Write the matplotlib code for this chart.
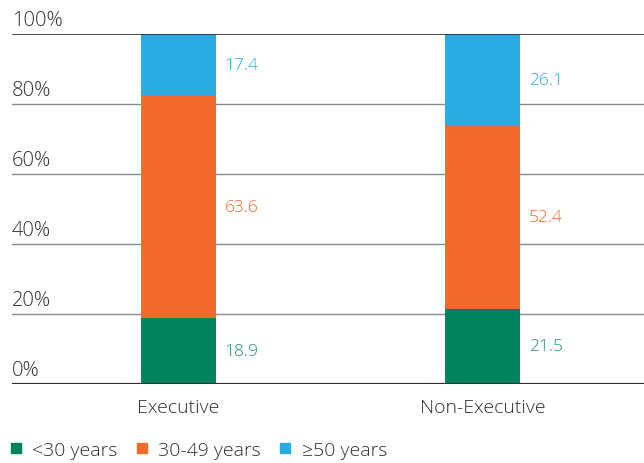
import numpy as np
import matplotlib.pyplot as plt
from matplotlib.lines import Line2D
from matplotlib.transforms import blended_transform_factory

plt.rcParams["font.family"] = ["Open Sans", "DejaVu Sans"]
plt.rcParams["font.weight"] = "light"

# age split of board members, percent
categories = ["Executive", "Non-Executive"]
under_30 = [18.9, 21.5]
age_30_49 = [63.6, 52.4]
over_50 = [17.4, 26.1]
series_names = ["<30 years", "30-49 years", "\u226550 years"]
y_ticks = [0, 20, 40, 60, 80, 100]

colors = ["#00825f", "#f26a2b", "#2aabe2"]
text_colors = ["#1b9474", "#f26a2b", "#2aabe2"]
grey = "#2e2e2e"

fig = plt.figure(figsize=(6.44, 4.64), dpi=100)
ax = fig.add_axes([12 / 644, 79 / 464, 632 / 644, 350 / 464])

x = np.arange(len(categories))
width = 0.247
series = [under_30, age_30_49, over_50]
bottom = np.zeros(len(categories))
for vals, c, tc in zip(series, colors, text_colors):
    vals = np.array(vals)
    ax.bar(x, vals, width, bottom=bottom, color=c, zorder=3)
    for xi, b, v in zip(x, bottom, vals):
        ax.text(xi + width / 2 + 0.028, b + v / 2, f"{v:.1f}", color=tc,
                fontsize=12.5, va="center", ha="left")
    bottom += vals

ax.set_xlim(-0.5477, 1.531)
ax.set_ylim(0, 100)

# horizontal rules with labels sitting above them
trans = blended_transform_factory(ax.transAxes, ax.transData)
for t in y_ticks:
    if t in (0, 100):
        ax.axhline(t, color=grey, lw=1.6 if t == 0 else 1.2, zorder=4)
    else:
        ax.axhline(t, color="#8a8a8a", lw=1.0, zorder=2)
    ax.text(0, t + 1.0, f"{t}%", transform=trans, ha="left", va="bottom",
            fontsize=14.5, color=grey)

for s in ax.spines.values():
    s.set_visible(False)
ax.set_yticks([])
ax.set_xticks(x)
ax.set_xticklabels(categories, fontsize=14, color=grey)
ax.tick_params(axis="x", length=0, pad=10)

handles = [Line2D([], [], marker="s", ls="", color=c, markersize=7) for c in colors]
fig.legend(handles, series_names, loc="lower left", bbox_to_anchor=(0.006, -0.004),
           ncol=3, frameon=False, fontsize=14, handlelength=0.6,
           handletextpad=0.55, columnspacing=0.95, borderaxespad=0.0,
           borderpad=0.3, labelcolor=grey)

fig.savefig("out.png", dpi=100)
